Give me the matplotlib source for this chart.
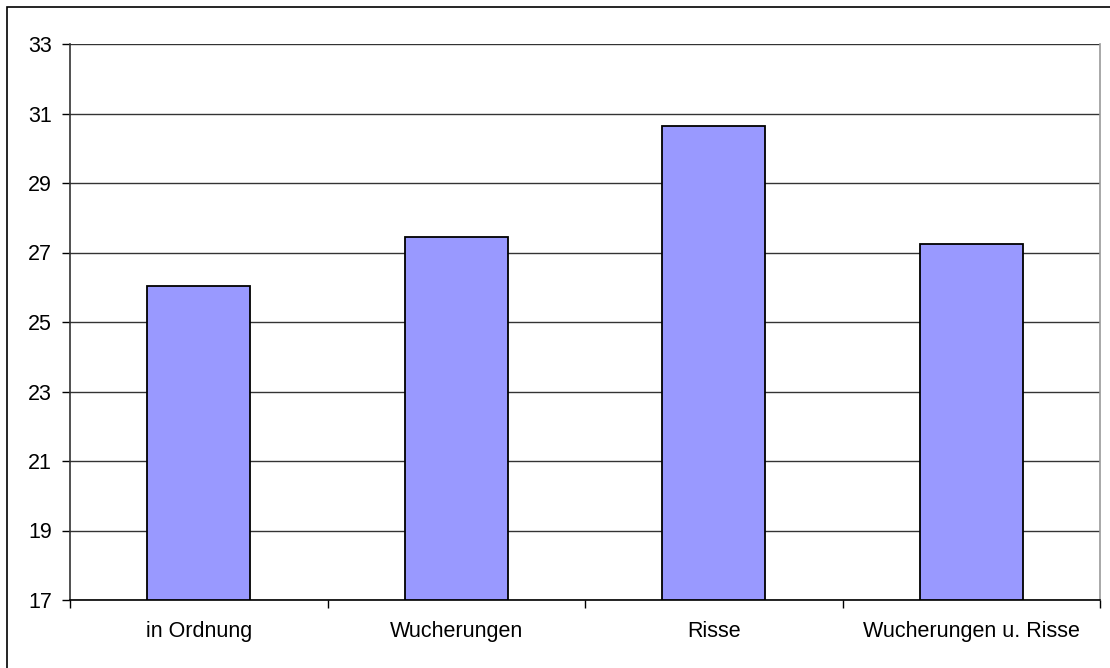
import numpy as np
import matplotlib
matplotlib.use('Agg')
import matplotlib.pyplot as plt
from matplotlib.patches import Rectangle

# data
kategorien = ['in Ordnung', 'Wucherungen', 'Risse', 'Wucherungen u. Risse']
werte = [26.05, 27.45, 30.65, 27.25]
y_ticks = [17, 19, 21, 23, 25, 27, 29, 31, 33]

plt.rcParams['font.family'] = ['Liberation Sans', 'DejaVu Sans']

fig = plt.figure(figsize=(11.1, 6.68), dpi=100)
ax = fig.add_axes([70/1110, 1-600/668, 1030/1110, 556/668])

# outer frame (left and top visible)
fig.patches.append(Rectangle((7/1110, -0.1), 1.2, 1-7/668+0.1, transform=fig.transFigure,
                             fill=False, edgecolor='black', linewidth=1.2))

x = np.arange(len(kategorien))
ax.bar(x, [w - 17 for w in werte], bottom=17, width=0.4, color='#9999FF',
       edgecolor='black', linewidth=1.3, zorder=3)

ax.set_ylim(17, 33)
ax.set_xlim(-0.5, len(kategorien) - 0.5)
ax.set_yticks(y_ticks)
ax.set_yticklabels([str(t) for t in y_ticks])
ax.yaxis.grid(True, color='#333333', linewidth=1.0, zorder=0)
ax.set_axisbelow(True)

ax.set_xticks(x)
ax.set_xticklabels(kategorien)
ax.set_xticks(np.arange(-0.5, len(kategorien)), minor=True)
ax.tick_params(axis='x', which='major', length=0, pad=15, labelsize=15.5)
ax.tick_params(axis='x', which='minor', length=6, width=1, direction='out', color='black')
ax.tick_params(axis='y', length=6, width=1, direction='out', pad=7, labelsize=15.5)

ax.spines['top'].set_visible(False)
ax.spines['right'].set_color('#999999')
ax.spines['left'].set_color('#333333')
ax.spines['bottom'].set_color('black')
for s in ax.spines.values():
    s.set_linewidth(1.2)

fig.savefig('out.png', dpi=100)
